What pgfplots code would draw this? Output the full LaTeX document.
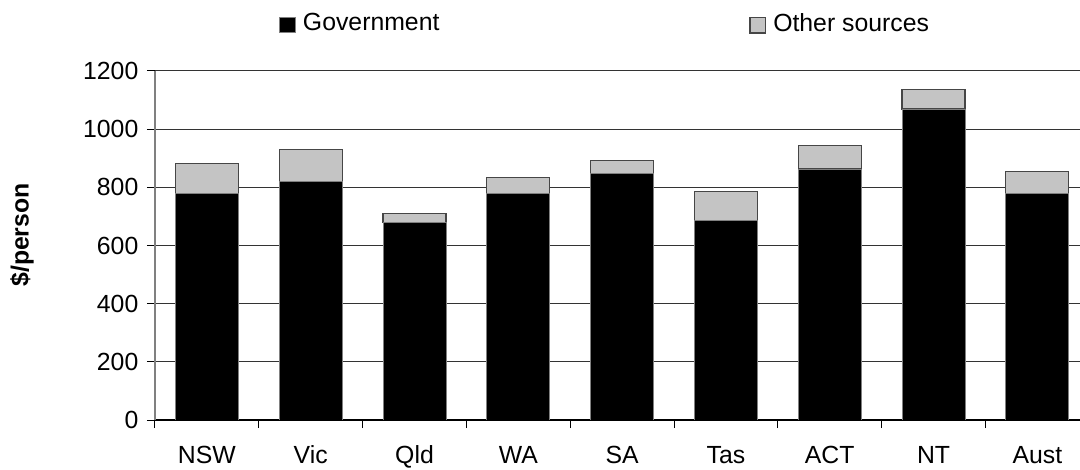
\documentclass[border=0pt]{standalone}
\usepackage{pgfplots}
\pgfplotsset{compat=1.18}
\usepackage{fontspec}
\setmainfont{Liberation Sans}
\definecolor{othergray}{RGB}{196,196,196}
\definecolor{edgegray}{RGB}{70,70,70}
\begin{document}
\fontsize{12.4bp}{14bp}\selectfont
\begin{tikzpicture}
\path[use as bounding box] (-77.5bp,-25bp) rectangle (462.5bp,210bp);
\begin{axis}[
  at={(0,0)}, anchor=south west,
  scale only axis, width=462.5bp, height=174.5bp,
  xmin=-0.5, xmax=8.411, ymin=0, ymax=1200,
  ybar stacked, bar width=0.607,
  axis x line=bottom, axis y line=left,
  x axis line style={black,-,line width=0.6bp},
  y axis line style={gray,-,line width=0.8bp},
  ytick={0,200,...,1200},
  ymajorgrids, grid style={black!80,line width=0.5bp},
  xtick={0,...,8},
  xticklabels={NSW,Vic,Qld,WA,SA,Tas,ACT,NT,Aust},
  minor xtick={-0.5,0.5,...,7.5},
  tick align=outside,
  major tick length=4bp, minor tick length=4bp,
  every major x tick/.style={draw=none},
  every minor x tick/.style={black,line width=0.5bp},
  every major y tick/.style={black,line width=0.5bp},
  /pgf/number format/assume math mode=true,
  /pgf/number format/1000 sep={},
  tick label style={font=\fontsize{12.4bp}{14bp}\selectfont},
  xticklabel style={text height=9bp, text depth=0pt, yshift=-4.4bp},
  every axis y label/.style={at={(rel axis cs:0,0.5)}, xshift=-66.5bp, yshift=5.25bp, rotate=90, anchor=center, font=\fontsize{12.4bp}{14bp}\selectfont\bfseries},
  ylabel={\$/person},
  legend style={at={(rel axis cs:0,1)}, anchor=west, xshift=62bp, yshift=23.5bp,
    draw=none, fill=none, inner sep=0pt, legend columns=2,
    nodes={inner sep=0pt}, font=\fontsize{12.4bp}{14bp}\selectfont,
    /tikz/every odd column/.append style={column sep=3.5bp},
    /tikz/every even column/.append style={column sep=155bp},
    cells={anchor=west}},
  legend image code/.code={\draw[#1] (0bp,-4.5bp) rectangle (7.8bp,3.3bp);},
]
\addplot[fill=black, draw=gray, line width=0.5bp] coordinates {
  (0,779) (1,820) (2,678) (3,779) (4,847) (5,685) (6,863) (7,1069) (8,779)};
\addplot[fill=othergray, draw=edgegray, line width=0.6bp] coordinates {
  (0,103) (1,111) (2,33) (3,55) (4,44) (5,101) (6,81) (7,68) (8,76)};
\legend{Government, Other sources}
\end{axis}
\end{tikzpicture}
\end{document}
